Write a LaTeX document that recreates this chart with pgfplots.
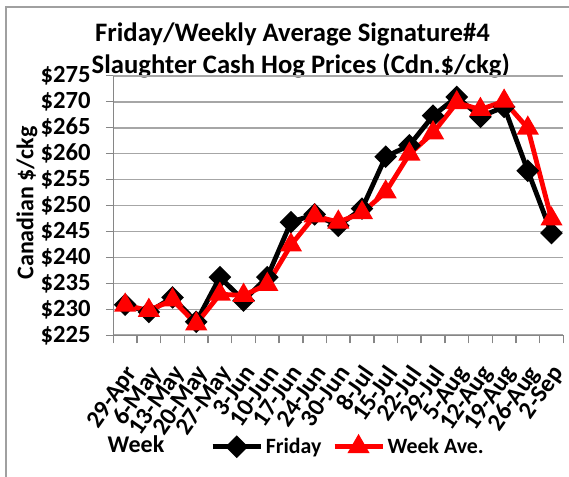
\documentclass[border=0pt]{standalone}
\usepackage{fontspec}
\setmainfont{Carlito}
\usepackage{pgfplots}
\pgfplotsset{compat=1.18}

\definecolor{gridgray}{RGB}{166,166,166}
\definecolor{axisgray}{RGB}{134,134,134}
\definecolor{framegray}{RGB}{160,160,160}

% weekly hog prices, category index 0..18
\pgfplotstableread{
idx friday weekave
0  230.9 230.8
1  229.5 229.8
2  232.3 231.8
3  227.6 227.2
4  236.2 232.9
5  231.7 232.7
6  236.2 234.8
7  246.8 242.4
8  248.3 248.0
9  246.1 246.8
10 249.4 248.6
11 259.4 252.6
12 261.6 259.9
13 267.3 264.0
14 270.9 269.8
15 267.1 268.5
16 269.0 270.1
17 256.7 264.9
18 244.7 247.4
}\prices

\begin{document}
\begin{tikzpicture}[x=0.75pt,y=0.75pt]
\useasboundingbox (0,0) rectangle (569,476);
% chart area frame (cut by the page on the right and bottom)
\draw[framegray, line width=1.1pt] (6,-20) -- (6,469) -- (620,469);

\node[anchor=base, font=\bfseries\fontsize{20}{23}\selectfont] at (292.5,434.3) {Friday/Weekly Average Signature\#4};
\node[anchor=base, font=\bfseries\fontsize{20}{23}\selectfont] at (300.8,402.7) {Slaughter Cash Hog Prices (Cdn.\$/ckg)};
\node[rotate=90, anchor=base, font=\bfseries\fontsize{18}{21}\selectfont] at (33.5,273) {Canadian \$/ckg};
\node[anchor=base, font=\bfseries\fontsize{18}{21}\selectfont] at (136,23.3) {Week};

\begin{axis}[
    at={(85pt,105.5pt)}, anchor=south west,
    scale only axis, width=337.5pt, height=194.7pt,
    xmin=-0.5, xmax=18.5, ymin=225, ymax=275,
    axis x line*=bottom, axis y line*=left,
    axis line style={draw=axisgray, line width=1.1pt, -},
    xtick={0,...,18},
    xticklabels={29-Apr,6-May,13-May,20-May,27-May,3-Jun,10-Jun,17-Jun,24-Jun,30-Jun,8-Jul,15-Jul,22-Jul,29-Jul,5-Aug,12-Aug,19-Aug,26-Aug,2-Sep},
    minor xtick={-0.5,0.5,...,18.5},
    ytick={225,230,...,275},
    yticklabels={\$225,\$230,\$235,\$240,\$245,\$250,\$255,\$260,\$265,\$270,\$275},
    tick align=outside,
    tick style={draw=axisgray, line width=1.1pt},
    major x tick style={draw=none},
    major tick length=5.5pt, minor tick length=6pt,
    ymajorgrids, grid style={draw=gridgray, line width=1.3pt},
    ticklabel style={font=\bfseries\fontsize{18.5}{21}\selectfont},
    y tick label style={xshift=-8pt},
    x tick label style={xshift=-1pt, yshift=-14.2pt, rotate=55, anchor=north east, inner sep=1pt},
    clip=false,
    legend columns=2,
    legend style={at={(0.215,-0.429)}, anchor=west, draw=none, fill=none,
        inner sep=0pt, font=\bfseries\fontsize{16.4}{19}\selectfont,
        /tikz/every even column/.append style={column sep=6pt}},
    legend cell align=left,
    legend image code/.code={\draw[mark repeat=2,mark phase=2,#1] plot coordinates {(0pt,0pt) (18pt,0pt) (36pt,0pt)};},
]
\addplot[black, line width=3.6pt, mark=square*, mark size=4.2pt, mark options={rotate=45}] table[x=idx, y=friday] {\prices};
\addlegendentry{Friday}
\addplot[red, line width=3.6pt, mark=triangle*, mark size=6pt] table[x=idx, y=weekave] {\prices};
\addlegendentry{Week Ave.}
\end{axis}
\end{tikzpicture}
\end{document}
